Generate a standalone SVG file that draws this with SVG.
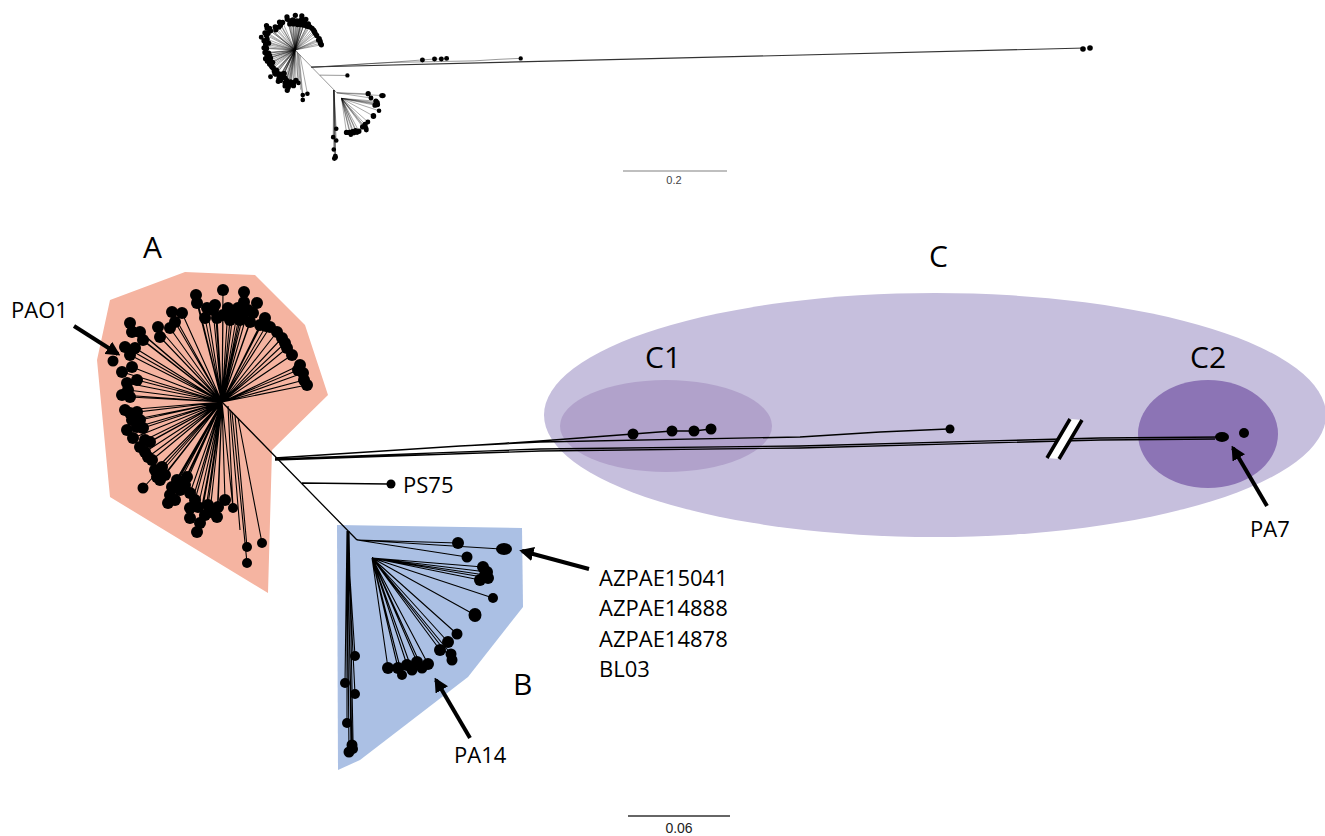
<svg xmlns="http://www.w3.org/2000/svg" xmlns:xlink="http://www.w3.org/1999/xlink" width="1325" height="836" viewBox="0 0 1325 836">
<style>
.ln{fill:none;stroke:#000;stroke-width:1.1}
.lnt{fill:none;stroke:#000;stroke-width:1.3}
.dot{fill:#000}
.lbl{font-family:"Open Sans","Liberation Sans",sans-serif;font-size:22px;fill:#000}
.big{font-size:30px}
.arr{fill:none;stroke:#000;stroke-width:4;marker-end:url(#ah)}
</style>
<defs>
<marker id="ah" viewBox="0 0 10 10" refX="8" refY="5" markerWidth="3.6" markerHeight="3.6" orient="auto" markerUnits="strokeWidth">
<path d="M0,0 L10,5 L0,10 z" fill="#000"/>
</marker>
</defs>
<rect width="1325" height="836" fill="#fff"/>

<g id="clades">
<polygon id="cladeA" points="110,300 185,272 255,275 305,325 328,395 272,450 268,593 110,497 97,360" fill="#f5b4a1"/>
<polygon id="cladeB" points="337,525 522,528 523,607 468,677 360,760 338,770" fill="#abc0e4"/>
<ellipse id="cladeC" cx="935" cy="415" rx="391" ry="122" fill="#c6bfdd"/>
<ellipse id="cladeC1" cx="666" cy="426" rx="106" ry="46" fill="#b1a2cb"/>
<ellipse id="cladeC2" cx="1208" cy="434" rx="70" ry="54" fill="#8c74b5"/>
</g>

<g id="core">
<path class="ln" d="M222,402L196,295M222,402L197,303M222,402L223,290M222,402L244,292M222,402L244,302M222,402L207,308M222,402L213,310M222,402L223,315M222,402L233,313M222,402L243,315M222,402L253,313M222,402L205,318M222,402L217,318M222,402L230,320M222,402L240,320M222,402L250,322M222,402L257,303M222,402L260,325M222,402L266,326M222,402L270,327M222,402L277,332M222,402L287,348M222,402L285,343M222,402L300,365M222,402L303,373M222,402L307,385M222,402L298,370M222,402L304,380M222,402L172,312M222,402L182,313M222,402L170,328M222,402L175,322M222,402L158,327M222,402L160,337M222,402L130,323M222,402L132,332M222,402L140,332M222,402L143,340M222,402L125,347M222,402L130,355M222,402L132,367M222,402L127,383M222,402L137,380M222,402L122,395M222,402L130,397M222,402L125,410M222,402L130,413M222,402L137,412M222,402L127,430M222,402L137,427M222,402L133,438M222,402L143,428M222,402L145,440M222,402L140,447M222,402L150,442M222,402L148,457M222,402L152,460M222,402L155,470M222,402L162,467M222,402L157,477M222,402L165,475M222,402L143,488M222,402L172,487M222,402L177,480M222,402L187,477M222,402L180,490M222,402L170,495M222,402L168,503M222,402L190,493M222,402L190,508M222,402L198,507M222,402L190,518M222,402L208,505M222,402L205,515M222,402L218,507M222,402L200,523M222,402L197,532M222,402L233,508M222,402L217,517M222,402L215,305M222,402L228,308M222,402L238,308M222,402L248,310M222,402L265,318M222,402L282,338M222,402L292,355M222,402L135,348M222,402L122,372M222,402L128,390M222,402L132,420M222,402L140,420M222,402L145,452M222,402L160,480M222,402L185,485M222,402L195,500M222,402L210,512M222,402L225,500M222,402L175,500M235,415L247,547M238,418L262,543M232,412L247,563M228,406L233,508M230,410L240,530"/>
<g id="dotsA" class="dot">
<circle cx="196" cy="295" r="6"/><circle cx="197" cy="303" r="6"/><circle cx="223" cy="290" r="6"/><circle cx="244" cy="292" r="6"/><circle cx="244" cy="302" r="6"/><circle cx="207" cy="308" r="6"/><circle cx="213" cy="310" r="6"/><circle cx="223" cy="315" r="6"/><circle cx="233" cy="313" r="6"/><circle cx="243" cy="315" r="6"/><circle cx="253" cy="313" r="6"/><circle cx="205" cy="318" r="6"/><circle cx="217" cy="318" r="6"/><circle cx="230" cy="320" r="6"/><circle cx="240" cy="320" r="6"/><circle cx="250" cy="322" r="6"/><circle cx="257" cy="303" r="6"/><circle cx="260" cy="325" r="6"/><circle cx="266" cy="326" r="6"/><circle cx="270" cy="327" r="6"/><circle cx="277" cy="332" r="6"/><circle cx="287" cy="348" r="6"/><circle cx="285" cy="343" r="6"/><circle cx="300" cy="365" r="6"/><circle cx="303" cy="373" r="6"/><circle cx="307" cy="385" r="6"/><circle cx="298" cy="370" r="6"/><circle cx="304" cy="380" r="6"/>
<circle cx="215" cy="305" r="6"/><circle cx="228" cy="308" r="6"/><circle cx="238" cy="308" r="6"/><circle cx="248" cy="310" r="6"/><circle cx="265" cy="318" r="6"/><circle cx="282" cy="338" r="6"/><circle cx="292" cy="355" r="6"/>
<circle cx="172" cy="312" r="6"/><circle cx="182" cy="313" r="6"/><circle cx="170" cy="328" r="6"/><circle cx="175" cy="322" r="6"/><circle cx="158" cy="327" r="6"/><circle cx="160" cy="337" r="6"/><circle cx="130" cy="323" r="6"/><circle cx="132" cy="332" r="6"/><circle cx="140" cy="332" r="6"/><circle cx="143" cy="340" r="6"/><circle cx="125" cy="347" r="6"/><circle cx="113" cy="361" r="5.5"/><circle cx="130" cy="355" r="6"/><circle cx="132" cy="367" r="6"/><circle cx="127" cy="383" r="6"/><circle cx="137" cy="380" r="6"/><circle cx="122" cy="395" r="6"/><circle cx="130" cy="397" r="6"/><circle cx="125" cy="410" r="6"/><circle cx="130" cy="413" r="6"/><circle cx="137" cy="412" r="6"/><circle cx="127" cy="430" r="6"/><circle cx="137" cy="427" r="6"/><circle cx="133" cy="438" r="6"/><circle cx="143" cy="428" r="6"/><circle cx="145" cy="440" r="6"/><circle cx="140" cy="447" r="6"/><circle cx="150" cy="442" r="6"/><circle cx="148" cy="457" r="6"/><circle cx="152" cy="460" r="6"/><circle cx="155" cy="470" r="6"/><circle cx="162" cy="467" r="6"/><circle cx="157" cy="477" r="6"/><circle cx="165" cy="475" r="6"/><circle cx="143" cy="488" r="5.5"/><circle cx="172" cy="487" r="6"/><circle cx="177" cy="480" r="6"/><circle cx="187" cy="477" r="6"/><circle cx="180" cy="490" r="6"/><circle cx="170" cy="495" r="6"/><circle cx="168" cy="503" r="6"/><circle cx="190" cy="493" r="6"/><circle cx="190" cy="508" r="6"/><circle cx="198" cy="507" r="6"/><circle cx="190" cy="518" r="6"/><circle cx="208" cy="505" r="6"/><circle cx="205" cy="515" r="6"/><circle cx="218" cy="507" r="6"/><circle cx="200" cy="523" r="6"/><circle cx="197" cy="532" r="6"/><circle cx="233" cy="508" r="5"/><circle cx="217" cy="517" r="6"/>
<circle cx="135" cy="348" r="6"/><circle cx="122" cy="372" r="6"/><circle cx="128" cy="390" r="6"/><circle cx="132" cy="420" r="6"/><circle cx="140" cy="420" r="6"/><circle cx="145" cy="452" r="6"/><circle cx="160" cy="480" r="6"/><circle cx="185" cy="485" r="6"/><circle cx="195" cy="500" r="6"/><circle cx="210" cy="512" r="6"/><circle cx="225" cy="500" r="6"/><circle cx="175" cy="500" r="6"/>
<circle cx="247" cy="547" r="5"/><circle cx="262" cy="543" r="5"/><circle cx="247" cy="563" r="5"/>
</g>
<path class="lnt" d="M222,402L357,540M302,483L388,484"/>
<circle class="dot" cx="391" cy="484" r="4.5"/>
<path class="ln" d="M357,540L458,543M357,540L501,549M357,540L467,557M372,558L483,567M372,558L487,572M372,558L488,578M372,558L480,580M372,558L485,575M372,558L493,598M372,558L475,615M372,558L457,634M372,558L448,642M372,558L440,650M372,558L451,654M372,558L452,660M372,558L428,664M372,558L417,662M372,558L407,665M372,558L398,668M372,558L388,668M372,558L402,675M372,558L412,670M372,558L422,668M347,531L355,656M347,531L345,683M347,531L355,694M347,531L347,723M347,531L352,747M347,531L349,753M348,531L351,750M349,531L353,740"/>
<g id="dotsB" class="dot">
<circle cx="458" cy="543" r="6"/><ellipse cx="504" cy="549" rx="8" ry="6"/><circle cx="467" cy="557" r="5.5"/><circle cx="483" cy="567" r="6"/><circle cx="487" cy="572" r="6"/><circle cx="488" cy="578" r="6"/><circle cx="480" cy="580" r="6"/><circle cx="485" cy="575" r="6"/><circle cx="493" cy="598" r="5"/><ellipse cx="475" cy="615" rx="6.5" ry="7"/><circle cx="457" cy="634" r="5.5"/><circle cx="448" cy="642" r="6"/><circle cx="440" cy="650" r="6"/><circle cx="451" cy="654" r="5.5"/><circle cx="452" cy="660" r="5.5"/><circle cx="428" cy="664" r="6"/><circle cx="417" cy="662" r="6"/><circle cx="407" cy="665" r="6"/><circle cx="398" cy="668" r="6"/><circle cx="388" cy="668" r="6"/><circle cx="402" cy="675" r="5"/><circle cx="412" cy="670" r="5.5"/><circle cx="422" cy="668" r="5.5"/>
<circle cx="355" cy="656" r="5"/><circle cx="345" cy="683" r="5"/><circle cx="355" cy="694" r="5"/><circle cx="347" cy="723" r="5"/><circle cx="352" cy="745" r="5.5"/><circle cx="349" cy="752" r="5.5"/><circle cx="353" cy="749" r="5"/>
</g>
<path class="lnt" d="M275,458L540,441L633,434L672,431L694,431L711,429M275,458L460,446L540,442L800,437L880,432L948,429"/>
<g class="dot">
<circle cx="633" cy="434" r="5.5"/><circle cx="672" cy="431" r="5.5"/><circle cx="694" cy="431" r="5.5"/><circle cx="711" cy="429" r="5.5"/><circle cx="950" cy="429" r="4.5"/>
</g>
</g>

<g id="c2branch">
<path class="lnt" d="M275,459L540,449L800,446L1100,438L1222,437M275,460L540,451L800,448L1100,440L1215,439"/>
<polygon points="1047,458 1070,419 1082,420 1059,459" fill="#fff"/>
<path d="M1047,458L1070,419M1059,459L1082,420" stroke="#000" stroke-width="3.5" fill="none"/>
<ellipse class="dot" cx="1222" cy="437" rx="7" ry="5"/>
<circle class="dot" cx="1244" cy="433" r="5"/>
</g>

<g id="overview">
<use href="#core" xlink:href="#core" transform="translate(226.2,-74.6) scale(0.31)" stroke="#000" stroke-width="5"/>
<path d="M311,67L1085,48" fill="none" stroke="#333" stroke-width="1.1"/>
<circle class="dot" cx="1083" cy="49" r="2.8"/>
<circle class="dot" cx="1090" cy="48" r="2.8"/>
</g>

<g id="scalebars">
<line x1="623" y1="171" x2="727" y2="171" stroke="#aaa" stroke-width="1.5"/>
<text x="674" y="184" text-anchor="middle" font-family="Liberation Sans, sans-serif" font-size="11" fill="#444">0.2</text>
<line x1="628" y1="816" x2="730" y2="816" stroke="#333" stroke-width="1.5"/>
<text x="679" y="833" text-anchor="middle" font-family="Liberation Sans, sans-serif" font-size="14" fill="#222">0.06</text>
</g>

<g id="arrows">
<line class="arr" x1="74" y1="326" x2="118" y2="354"/>
<line class="arr" x1="589" y1="569" x2="522" y2="551"/>
<line class="arr" x1="470" y1="738" x2="436" y2="680"/>
<line class="arr" x1="1267" y1="506" x2="1233" y2="448"/>
</g>

<g id="labels">
<text class="lbl big" x="143" y="258">A</text>
<text class="lbl" x="11" y="318">PAO1</text>
<text class="lbl" x="403" y="493">PS75</text>
<text class="lbl" x="599" y="586">AZPAE15041</text>
<text class="lbl" x="599" y="616">AZPAE14888</text>
<text class="lbl" x="599" y="647">AZPAE14878</text>
<text class="lbl" x="599" y="677">BL03</text>
<text class="lbl big" x="513" y="695">B</text>
<text class="lbl" x="454" y="763">PA14</text>
<text class="lbl big" x="929" y="267">C</text>
<text class="lbl big" x="645" y="368">C1</text>
<text class="lbl big" x="1190" y="368">C2</text>
<text class="lbl" x="1250" y="537">PA7</text>
</g>
</svg>
